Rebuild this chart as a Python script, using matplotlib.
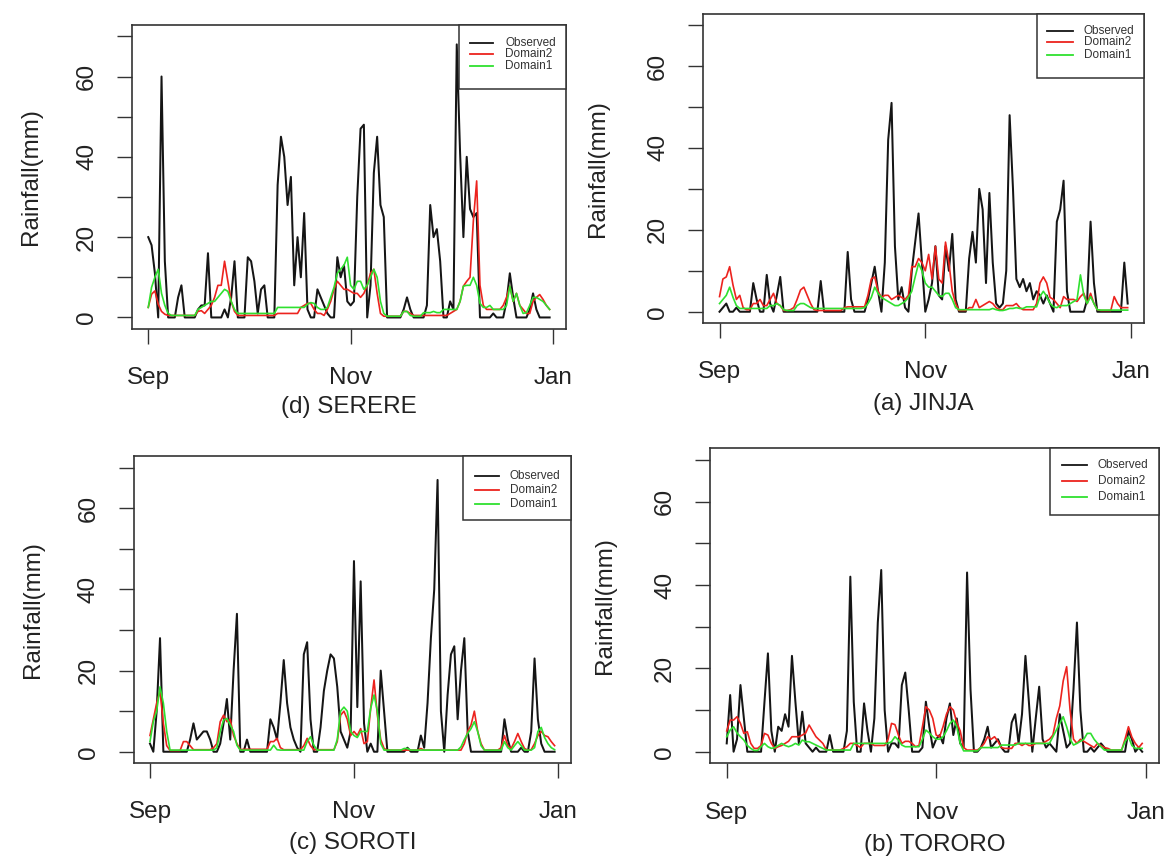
import numpy as np
import matplotlib
matplotlib.use("Agg")
import matplotlib.pyplot as plt
from matplotlib.patches import Rectangle

plt.rcParams['font.family'] = ['Liberation Sans', 'DejaVu Sans']

# ---------------- data ----------------
month_labels = ['Sep', 'Nov', 'Jan']
month_days = [0, 61, 122]
y_ticks = [0, 10, 20, 30, 40, 50, 60, 70]
y_tick_labels = ['0', '', '20', '', '40', '', '60', '']
series_names = ['Observed', 'Domain2', 'Domain1']
series_colors = ['#151515', '#ec231e', '#2fe02f']
y_label = 'Rainfall(mm)'

days = np.arange(122)  # 1 Sep .. 31 Dec

# (d) SERERE
serere_obs = [20, 18, 11, 0, 60, 14, 0, 0, 0, 5,
              8, 0, 0, 0, 0, 2, 3, 3, 16, 0,
              0, 0, 0, 2, 0, 5, 14, 0, 0, 0,
              15, 14, 9, 1, 7, 8, 0, 0, 0, 33,
              45, 40, 28, 35, 8, 20, 10, 26, 2, 0,
              0, 7, 5, 3, 1, 0, 0, 15, 10, 13,
              4, 3, 4, 30, 47, 48, 0, 8, 36, 45,
              28, 25, 0, 0, 0, 0, 0, 2, 5, 2,
              0, 0, 0, 0, 3, 28, 20, 22, 14, 0,
              0, 4, 2, 68, 41, 20, 40, 27, 25, 26,
              0, 0, 0, 0, 1, 0, 0, 0, 4, 11,
              5, 0, 0, 0, 0, 2, 6, 2, 0, 0,
              0, 0]
serere_d2 = [2.5, 5.8, 6.6, 3.3, 1.5, 0.8, 0.5, 0.5, 0.5, 0.5,
             0.5, 0.5, 0.5, 0.5, 0.5, 1.5, 1.7, 1, 2, 3,
             5, 8, 8, 14, 9, 4, 1.5, 0.5, 0.5, 0.5,
             0.5, 0.5, 0.5, 0.5, 0.5, 0.5, 0.5, 0.5, 0.5, 1,
             1, 1, 1, 1, 1, 1, 2.5, 3, 3.5, 3.5,
             2, 1, 1, 0.5, 2, 4, 7, 9, 8, 7,
             7, 6.5, 6, 6, 5, 6, 8, 11, 12, 6,
             1, 0.3, 0.3, 0.3, 0.3, 0.3, 0.3, 1.5, 1.5, 1,
             0.5, 0.5, 0.5, 0.5, 0.5, 0.5, 0.5, 0.5, 0.5, 0.5,
             0.5, 1, 1.5, 2, 4, 7.8, 9, 10, 24, 34,
             8, 3, 2, 2, 2, 2, 2, 3, 5, 7.8,
             4, 6, 3, 2, 1, 1, 4, 5, 5.7, 4.5,
             3, 2]
serere_d1 = [2.5, 7.5, 10, 12, 6, 3, 1, 0.5, 0.5, 0.5,
             0.5, 0.5, 0.5, 0.5, 0.5, 2, 2.5, 3, 3.5, 4,
             4, 5, 6, 7, 6.5, 4, 2, 1, 1, 1,
             1, 1, 1, 1, 1, 1, 1, 1, 1, 2.5,
             2.5, 2.5, 2.5, 2.5, 2.5, 2.5, 2.5, 2.5, 3.3, 3.7,
             3.5, 2.5, 2, 2, 2.5, 5, 7.5, 11, 12, 13,
             15, 8, 7, 9, 9, 7, 8, 10, 12, 10,
             4, 1, 0.3, 0.3, 0.3, 0.3, 0.3, 1.5, 1.5, 0.5,
             0.3, 0.3, 0.3, 1.2, 1.2, 1.2, 1.5, 1.2, 1.2, 2,
             2, 2, 2, 2, 4, 7.8, 8, 8, 10, 8,
             3.5, 2.5, 2.5, 3, 2, 2, 2, 2, 3, 7.8,
             4, 6, 3, 1, 1.2, 3, 5, 5, 4.5, 4,
             3, 2]

# (a) JINJA
jinja_obs = [0, 1, 2, 0, 0, 1, 0, 0, 0, 0,
             7, 3, 0, 0, 9, 2, 0, 4, 8.5, 0,
             0, 0, 0, 0, 0, 0, 0, 0, 0, 0,
             7.5, 0, 0, 0, 0, 0, 0, 0, 14.6, 3,
             0, 0, 0, 0, 3, 7, 11, 5, 0, 12,
             42, 51, 16, 3, 6, 1, 0, 10, 17, 24,
             12, 0, 3, 7, 16, 4, 3, 16, 10, 19,
             3, 0, 0, 0, 13, 19.5, 12, 30, 25, 7,
             29, 12, 2, 1, 2, 10, 48, 30, 8, 6,
             8, 5, 7, 3, 5, 4, 2, 4, 2, 0,
             22, 25, 32, 5, 0, 0, 0, 0, 0, 3,
             22, 7, 0, 0, 0, 0, 0, 0, 0, 0,
             12, 2]
jinja_d2 = [3.7, 8, 8.5, 11, 6.5, 3, 4, 1, 0.5, 0.5,
            2, 2, 3, 1.5, 1.5, 3, 4.5, 2, 1.5, 0.3,
            0.3, 0.5, 1, 3, 5.3, 6, 4, 2, 0.5, 0.3,
            0.3, 0.3, 0.3, 0.3, 0.3, 0.3, 0.3, 1, 1.2, 1.2,
            1.2, 1.2, 1.2, 1.2, 4, 8, 8.5, 5, 3.5, 4,
            4, 3, 3.5, 4, 3.5, 3, 4, 11, 11, 13,
            12, 10, 14, 8, 16, 8, 7, 17, 12, 5,
            2, 0.3, 0.3, 0.3, 1, 1, 3, 1, 1.5, 2,
            2.5, 2, 1, 0.5, 0.5, 1.5, 1.5, 1.5, 2, 1,
            0.5, 0.5, 0.5, 0.5, 2, 7, 8.5, 7, 3.5, 3,
            2, 1, 3.7, 3, 3, 3, 2.5, 3.7, 4.5, 2,
            4.5, 2, 0.5, 0.3, 0.3, 0.3, 0.3, 3.7, 2, 1,
            1, 1]
jinja_d1 = [2, 3, 4, 6, 3.5, 1.5, 0.8, 0.8, 0.8, 0.8,
            0.8, 0.8, 0.8, 0.8, 0.8, 1.5, 1.5, 2, 1.5, 0.5,
            0.3, 0.3, 0.3, 1.5, 2, 2, 1.5, 1, 0.8, 0.8,
            0.8, 0.8, 0.8, 0.8, 0.8, 0.8, 0.8, 0.8, 0.8, 0.8,
            0.8, 0.8, 0.8, 1, 2, 3.5, 6, 4.5, 3.5, 3,
            2.5, 2, 1.5, 1.5, 2, 2.5, 3.5, 5, 8.5, 11.8,
            10, 7, 6, 6, 5, 4, 3.7, 4.5, 4.5, 3,
            1, 0.5, 0.5, 0.5, 0.5, 0.5, 0.5, 0.5, 0.5, 0.5,
            0.5, 0.8, 0.5, 0.3, 0.3, 0.5, 0.8, 0.8, 1, 0.8,
            0.8, 1.2, 1.2, 1.2, 1.2, 3.7, 5, 3.7, 2, 1.2,
            1, 1.5, 1.5, 1.5, 2, 2.5, 3, 9, 4, 2,
            3.7, 2, 0.5, 0.4, 0.4, 0.4, 0.4, 0.4, 0.4, 0.4,
            0.4, 0.4]

# (c) SOROTI
soroti_obs = [2, 0, 10, 28, 0, 0, 0, 0, 0, 0,
              0, 0, 3, 7, 3, 4, 5, 5, 3, 0,
              0, 2, 7, 13, 3, 20, 34, 0, 0, 3,
              0, 0, 0, 0, 0, 0, 8, 6, 3, 12,
              22.6, 12, 6, 3, 1, 0, 24, 27, 8, 0,
              0, 6, 15, 20, 24, 23, 16, 5, 3, 1,
              5, 47, 11, 42, 7, 0, 2, 0, 0, 20,
              10, 0, 0, 0, 0, 0, 0, 1, 0, 0,
              0, 4, 1, 12, 28, 40, 67, 10, 0, 14,
              24, 26, 8, 20, 28, 5, 0, 0, 0, 0,
              0, 0, 0, 0, 0, 0, 8, 3, 0, 0,
              0, 1, 0, 0, 5, 23, 8, 2, 0, 0,
              0, 0]
soroti_d2 = [4, 8, 12, 15, 7, 1.5, 0.3, 0.3, 0.3, 0.3,
             2.5, 2.5, 1.5, 0.5, 0.5, 0.5, 0.5, 0.5, 0.5, 1,
             2, 7.4, 9, 7.4, 8, 4, 2, 0.5, 0.6, 0.6,
             0.6, 0.6, 0.6, 0.6, 0.6, 0.6, 2.5, 2.5, 3.3, 1,
             0.5, 0.5, 0.5, 0.5, 0.5, 0.5, 1.5, 3.3, 1.5, 0.5,
             0.5, 0.5, 0.5, 0.5, 0.5, 0.5, 2.5, 9, 10, 8,
             4, 5, 4, 5.7, 2, 2.5, 10.7, 17.7, 9, 3,
             0.8, 0.4, 0.4, 0.4, 0.4, 0.4, 0.4, 0.4, 0.4, 0.4,
             0.4, 0.8, 0.4, 0.4, 0.4, 0.4, 0.4, 0.4, 0.4, 0.4,
             0.4, 0.4, 0.4, 0.4, 2, 5, 6.6, 10, 5, 2,
             0.4, 0.4, 0.4, 0.4, 0.4, 1, 4, 1.5, 0.8, 2.5,
             4.5, 2.5, 0.8, 0.4, 0.5, 2, 4, 5, 4, 3.7,
             2.5, 1.5]
soroti_d1 = [2.5, 7.4, 10, 16, 12, 5, 0.4, 0.4, 0.4, 0.4,
             0.4, 0.4, 0.4, 0.4, 0.4, 0.4, 0.4, 0.4, 0.4, 0.4,
             1, 5, 7.8, 8.2, 6.6, 5, 1.6, 0.4, 0.4, 0.4,
             0.4, 0.4, 0.4, 0.4, 0.4, 0.4, 0.4, 1.6, 0.5, 0.4,
             0.4, 0.4, 0.4, 0.4, 0.4, 0.4, 0.4, 2.5, 3.7, 1.6,
             0.4, 0.4, 0.4, 0.4, 0.4, 0.4, 3, 10, 11, 10,
             5, 4, 3.5, 5, 5, 5, 10.7, 14, 10, 2,
             0.4, 0.4, 0.4, 0.4, 0.4, 0.4, 0.8, 0.8, 0.4, 0.4,
             0.4, 0.4, 0.4, 0.4, 0.4, 0.4, 0.4, 0.4, 0.4, 0.4,
             0.4, 0.4, 0.4, 1.2, 3, 4.5, 5.7, 7.4, 5, 1.5,
             0.4, 0.4, 0.4, 0.4, 0.4, 0.4, 2.5, 1, 0.4, 1.5,
             2.5, 1.5, 0.4, 0.4, 0.4, 1, 5, 6, 3.5, 2,
             1, 0.5]

# (b) TORORO
tororo_obs = [2, 13.6, 0, 3, 16, 8, 0, 0, 0, 0,
              0, 12, 23.6, 5, 0, 6, 5, 9, 6, 23,
              12, 2, 9.6, 2, 1, 0, 1, 0, 0, 0,
              4, 0, 0, 0, 0, 5, 42, 12, 0, 0,
              11.6, 5, 0, 8, 31, 43.6, 10, 0, 2, 2,
              1, 16, 19, 10, 0, 0, 0, 1, 12, 6,
              1, 3, 4, 2, 8, 11.6, 4, 8, 2, 1,
              43, 15, 0, 0, 1, 3, 6, 1, 2, 3,
              1, 0, 0, 7, 9, 2, 9, 23, 12, 0,
              8, 15.6, 3, 1, 2, 1, 0, 9, 5, 1,
              2, 15, 31, 10, 0, 0, 1, 0, 1, 2,
              1, 0, 0, 0, 0, 0, 0, 5, 3, 0,
              1, 0]
tororo_d2 = [5, 7.6, 7.6, 8.4, 6.8, 4.4, 4.8, 2, 0.8, 0.8,
             1.5, 4.4, 4, 2, 0.8, 1.2, 1.5, 2, 2.5, 3.6,
             3.6, 3.6, 4, 4.5, 6.4, 5, 3.6, 2.8, 2, 0.5,
             0.4, 0.4, 0.4, 0.4, 0.8, 1.2, 2, 2, 1.5, 1,
             2, 2, 2, 1.5, 1.5, 1.5, 1.5, 3, 6.8, 6.5,
             4, 2, 2.5, 2.5, 2, 1.2, 1.5, 6, 10.8, 10,
             8, 4, 3.6, 6, 9, 10.8, 10, 7, 5, 1,
             0.4, 0.4, 0.4, 0.4, 1, 2, 3.6, 3, 3.6, 2.5,
             1, 0.8, 0.8, 0.8, 2, 2, 1.5, 2, 1.5, 1.5,
             2, 2, 2, 2.5, 3, 4, 8, 11, 17, 20.4,
             10, 3, 2, 3, 2.5, 2, 1.5, 1, 2, 1.5,
             1, 0.8, 0.4, 0.4, 0.4, 0.4, 3, 6, 3.5, 2,
             1, 2]
tororo_d1 = [3.6, 5.2, 6, 4.5, 3.6, 2.8, 1.5, 0.8, 0.3, 0.3,
             1.2, 2, 1.2, 0.8, 1, 1.5, 2, 1.5, 1.2, 1.5,
             2, 1.6, 2.8, 2.4, 2.4, 2, 1.6, 1.2, 0.8, 0.4,
             0.4, 0.4, 0.4, 0.4, 0.4, 0.4, 0.4, 2, 2, 2,
             2, 2, 2, 2, 2, 2, 2, 2, 2.4, 3.6,
             2.8, 1.6, 1.2, 1.2, 1.2, 1.2, 1.2, 3, 5.2, 4.5,
             3.6, 3, 3, 3.6, 5, 6.8, 7.6, 6, 2, 0.2,
             0.2, 0.2, 0.2, 0.2, 1, 1, 1, 1, 1, 1,
             1.6, 1.6, 1.6, 1.6, 1.6, 2, 2, 2, 2, 2,
             2, 2, 2, 2, 2, 3.6, 5.2, 6.8, 8.4, 6,
             3, 1.6, 2, 2.5, 3, 4.4, 4.4, 3, 2, 1.2,
             0.4, 0.4, 0.4, 0.4, 0.4, 0.4, 2.4, 3.6, 1.5, 0.8,
             0.8, 0.8]

# ---------------- layout (pixels, y from top) ----------------
W, H = 1168, 856
panels = [
    dict(title='(d) SERERE', series=(serere_obs, serere_d2, serere_d1),
         box=(132.2, 565.7, 25.1, 328.7), title_y=407, ylab_x=31,
         legend=dict(left=459.3, bottom=89, line=(470, 493), text_x=505,
                     rows=(42.7, 54.3, 66))),
    dict(title='(a) JINJA', series=(jinja_obs, jinja_d2, jinja_d1),
         box=(703.2, 1144.0, 13.6, 323.2), title_y=404, ylab_x=598,
         legend=dict(left=1036.7, bottom=78.3, line=(1046.7, 1073.3), text_x=1084,
                     rows=(30.7, 42.3, 55))),
    dict(title='(c) SOROTI', series=(soroti_obs, soroti_d2, soroti_d1),
         box=(133.8, 570.8, 456.4, 763.1), title_y=843, ylab_x=33,
         legend=dict(left=463.3, bottom=520, line=(475, 499), text_x=510,
                     rows=(476, 490, 504))),
    dict(title='(b) TORORO', series=(tororo_obs, tororo_d2, tororo_d1),
         box=(710.1, 1158.8, 448.3, 763.4), title_y=845, ylab_x=605,
         legend=dict(left=1050, bottom=515, line=(1062, 1087), text_x=1098,
                     rows=(465, 481, 497))),
]

fig = plt.figure(figsize=(W / 100, H / 100), dpi=100)
fig.patch.set_facecolor('white')
text_col = '#222222'
fs = 17.5

for p in panels:
    L, R, T, B = p['box']
    ax = fig.add_axes([L / W, 1 - B / H, (R - L) / W, (B - T) / H])
    for vals, col, lw in zip(p['series'], series_colors, [1.45, 1.2, 1.2]):
        ax.plot(days, vals, color=col, lw=lw)
    ax.set_xlim(-4.84, 125.84)
    ax.set_ylim(-2.8, 72.8)
    ax.set_xticks(month_days, month_labels)
    ax.set_yticks(y_ticks, y_tick_labels, rotation=90, va='center')
    ax.tick_params(length=11, width=1.0, color='#333333', labelsize=fs,
                   labelcolor=text_col)
    ax.tick_params(axis='x', pad=16.5)
    ax.tick_params(axis='y', pad=13.5)
    for s in ax.spines.values():
        s.set_linewidth(1.2)
        s.set_color('#333333')

    fig.text(p['ylab_x'] / W, 1 - ((T + B) / 2) / H, y_label, rotation=90,
             ha='center', va='center', fontsize=fs, color=text_col)
    fig.text(((L + R) / 2) / W, 1 - p['title_y'] / H, p['title'],
             ha='center', va='center', fontsize=fs, color=text_col)

    lg = p['legend']

    def ax_xy(x, y, L=L, R=R, T=T, B=B):
        return (x - L) / (R - L), (B - y) / (B - T)

    x0, y0 = ax_xy(lg['left'], lg['bottom'])
    ax.add_patch(Rectangle((x0, y0), 1 - x0, 1 - y0, transform=ax.transAxes,
                           facecolor='white', edgecolor='#333333', lw=1.1,
                           zorder=5, clip_on=False))
    for name, col, ry in zip(series_names, series_colors, lg['rows']):
        xa, ya = ax_xy(lg['line'][0], ry)
        xb, _ = ax_xy(lg['line'][1], ry)
        ax.plot([xa, xb], [ya, ya], transform=ax.transAxes, color=col, lw=1.3,
                zorder=6, clip_on=False)
        xt, _ = ax_xy(lg['text_x'], ry)
        ax.text(xt, ya, name, transform=ax.transAxes, ha='left', va='center',
                fontsize=8.5, color='#333333', zorder=6)

fig.savefig('out.png', dpi=100)
